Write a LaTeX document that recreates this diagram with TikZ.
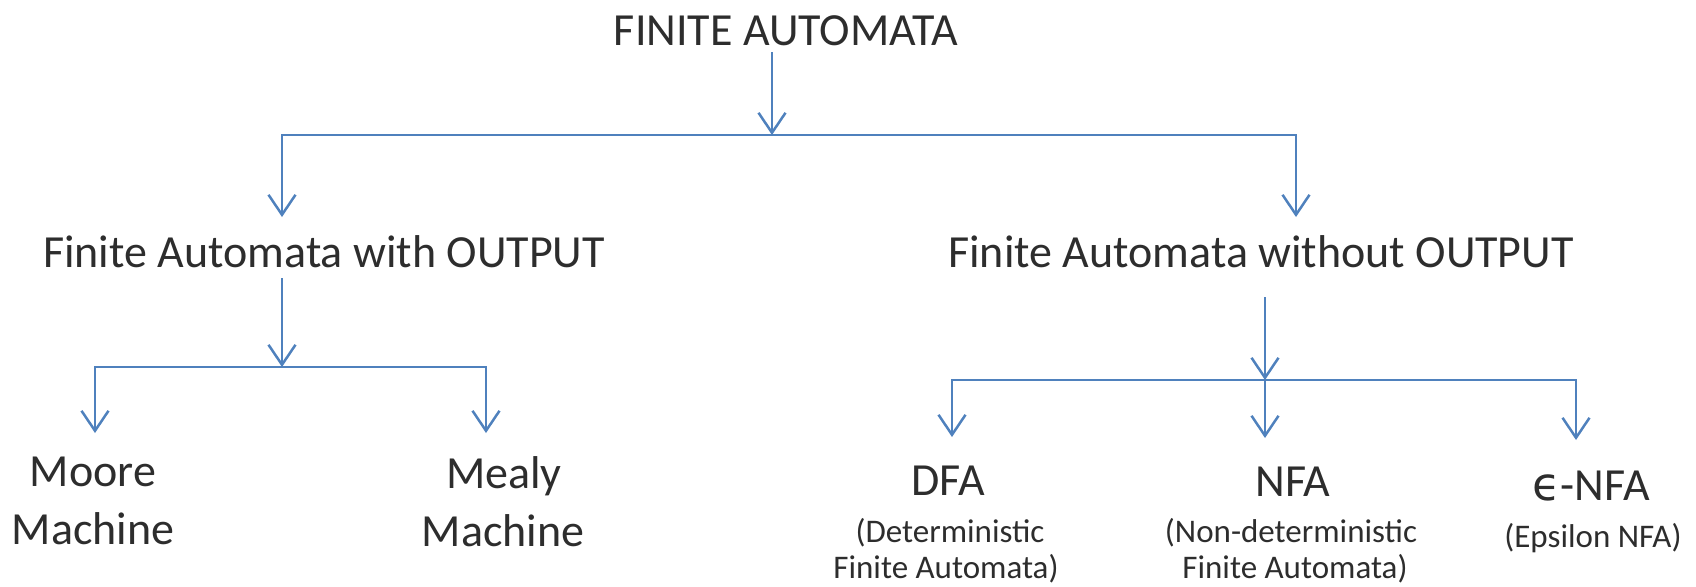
\documentclass[tikz,border=0pt]{standalone}
\usepackage{fontspec}
\setmainfont{Carlito}
\newfontfamily\symfont{DejaVu Sans}
\usetikzlibrary{arrows.meta,calc}
\definecolor{linkblue}{RGB}{79,129,189}
\definecolor{labelgray}{RGB}{45,45,45}
\begin{document}
\begin{tikzpicture}[x=0.5pt,y=-0.5pt,
  lbl/.style={inner sep=0pt,anchor=base,text=labelgray,font=\fontsize{23}{27}\selectfont},
  sublbl/.style={inner sep=0pt,anchor=base,text=labelgray,font=\fontsize{16.5}{19}\selectfont},
  link/.style={draw=linkblue,line width=1.25pt,line join=miter},
  tip/.tip={Straight Barb[length=10pt,width=13.5pt]},
  arr/.style={link,-tip},
  arr2/.style={link,tip-tip}]
\useasboundingbox (0,0) rectangle (1696,586);

% labels
\node[lbl] (fa)  at (786,45)  {FINITE AUTOMATA};
\node[lbl] (wo)  at (324,267) {Finite Automata with OUTPUT};
\node[lbl] (wno) at (1261,267) {Finite Automata without OUTPUT};

\node[lbl] (moore)  at (93,486)  {Moore};
\node[lbl] (mooreb) at (93,544)  {Machine};
\node[lbl] (mealy)  at (504,488) {Mealy};
\node[lbl] (mealyb) at (503,546) {Machine};

\node[lbl]    (dfa)  at (948,495) {DFA};
\node[sublbl] (dfaa) at (950,542) {(Deterministic};
\node[sublbl] (dfab) at (946,578) {Finite Automata)};
\node[lbl]    (nfa)  at (1293,496) {NFA};
\node[sublbl] (nfaa) at (1291,542) {(Non-deterministic};
\node[sublbl] (nfab) at (1295,578) {Finite Automata)};
\node[lbl]    (enfa)  at (1591,500) {{\symfont ϵ}-NFA};
\node[sublbl] (enfaa) at (1593,547) {(Epsilon NFA)};

% junction points
\coordinate (top)    at (772,135);
\coordinate (topL)   at (282,135);
\coordinate (topR)   at (1296,135);
\coordinate (midL)   at (282,367);
\coordinate (leftL)  at (95,367);
\coordinate (leftR)  at (486,367);
\coordinate (midR)   at (1265,380);
\coordinate (rightL) at (952,380);
\coordinate (rightR) at (1576,380);

% first level
\draw[arr] ($(fa.base -| top)+(0,7)$) -- (top);
\draw[arr2] ($(wo.base -| topL)+(0,-50)$) -- (topL) -- (topR) -- ($(wno.base -| topR)+(0,-50)$);

% machines with output
\draw[arr] ($(wo.base -| midL)+(0,11)$) -- (midL);
\draw[arr2] ($(moore.base -| leftL)+(0,-53)$) -- (leftL) -- (leftR) -- ($(mealy.base -| leftR)+(0,-55)$);

% automata without output
\draw[arr] ($(wno.base -| midR)+(0,30)$) -- (midR);
\draw[arr2] ($(dfa.base -| rightL)+(0,-58)$) -- (rightL) -- (rightR) -- ($(enfa.base -| rightR)+(0,-60)$);
\draw[arr] (midR) -- ($(nfa.base -| midR)+(0,-58)$);
\end{tikzpicture}
\end{document}
